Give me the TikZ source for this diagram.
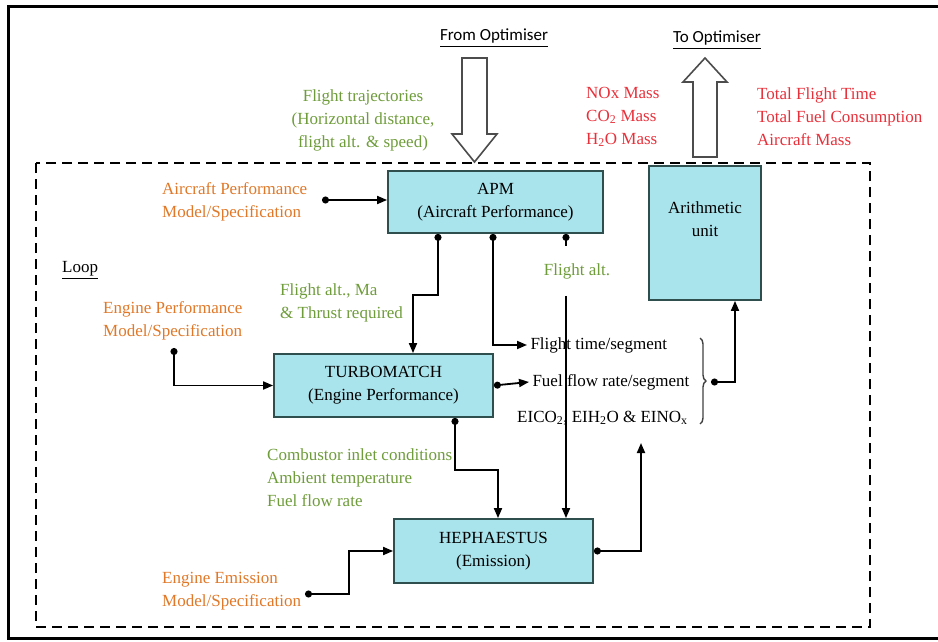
\documentclass[tikz,border=0pt]{standalone}
\usepackage{amsmath}
\usepackage{fontspec}
\setmainfont{Liberation Serif}
\newfontfamily\optfont{Carlito}
\usepackage{tikz}
\usetikzlibrary{arrows.meta,decorations.pathreplacing}

\definecolor{boxfill}{HTML}{A9E3EB}
\definecolor{boxline}{HTML}{2F4F4F}
\definecolor{inorange}{HTML}{E07828}
\definecolor{flowgreen}{HTML}{6E9C3A}
\definecolor{outred}{HTML}{E8303A}

\begin{document}
\begin{tikzpicture}[x=1pt,y=-1pt,
  every node/.style={font=\fontsize{17}{23}\selectfont},
  box/.style={draw=boxline,line width=1.8pt,fill=boxfill,align=center},
  txt/.style={inner sep=0pt,align=left,anchor=west},
  conn/.style={line width=1.8pt,{Circle[length=7pt]}-{Triangle[length=10pt,width=8pt]}},
  plain/.style={line width=1.8pt,{Circle[length=7pt]}-},
  hollow/.style={draw=black!70,line width=1.6pt,fill=white}]
  \useasboundingbox (0,0) rectangle (938,642);
  \draw[line width=3pt] (8,7) rectangle (970,638);
  \draw[line width=2.8pt,dash pattern=on 10pt off 6pt] (36,163) rectangle (870,627);

  \node[box,minimum width=215pt,minimum height=62pt] (apm) at (495.5,202) {APM\\(Aircraft Performance)};
  \node[box,minimum width=112pt,minimum height=134pt] (arith) at (705,233) {};
  \node[align=center] (arithtxt) at (705,219) {Arithmetic\\unit};
  \node[box,minimum width=219pt,minimum height=63pt] (tmatch) at (383.5,385.5) {TURBOMATCH\\(Engine Performance)};
  \node[box,minimum width=199pt,minimum height=64pt] (heph) at (493.5,551) {HEPHAESTUS\\(Emission)};

  \draw[hollow] (462,58) -- (487,58) -- (487,134) -- (497,134) -- (474.5,162) -- (452,134) -- (462,134) -- cycle;
  \draw[hollow] (693,157) -- (693,82) -- (683,82) -- (705,58) -- (727,82) -- (717,82) -- (717,157) -- cycle;
  \node[font=\optfont\fontsize{17}{20}\selectfont] (fromopt) at (494,38) {\underline{From Optimiser}};
  \node[font=\optfont\fontsize{17}{20}\selectfont] (toopt) at (717,40) {\underline{To Optimiser}};

  \node[align=center,text=flowgreen] (traj) at (363,120) {Flight trajectories\\(Horizontal distance,\\flight alt. \& speed)};
  \node[txt,text=outred] (emmass) at (586,117) {NOx Mass\\CO\textsubscript{2} Mass\\H\textsubscript{2}O Mass};
  \node[txt,text=outred] (totals) at (757,117) {Total Flight Time\\Total Fuel Consumption\\Aircraft Mass};

  \node[txt,text=inorange] (apspec) at (162,202) {Aircraft Performance\\Model/Specification};
  \node[txt] (loop) at (62,270) {\underline{Loop}};
  \node[txt,text=inorange] (epspec) at (103,321) {Engine Performance\\Model/Specification};
  \node[txt,text=inorange] (eespec) at (162,591) {Engine Emission\\Model/Specification};
  \node[txt,text=flowgreen] (altma) at (280,302.5) {Flight alt., Ma\\\& Thrust required};
  \node[txt,text=flowgreen] (comb) at (267,478) {Combustor inlet conditions\\Ambient temperature\\Fuel flow rate};
  \node[text=flowgreen,inner ysep=17pt] (flalt) at (577,271) {Flight alt.};

  \node[anchor=west] (ftime) at (527,345) {Flight time/segment};
  \node[anchor=west] (ffr) at (529,382) {Fuel flow rate/segment};
  \node[txt] (eico) at (517,418) {EICO\textsubscript{2}, EIH\textsubscript{2}O \& EINO\textsubscript{x}};

  \coordinate (apdot) at (322,200);
  \coordinate (epdot) at (174,348);
  \coordinate (eedot) at (305,594);
  \coordinate (brtip) at (711,382);
  \coordinate (eiin) at (641,443);

  \draw[conn] (apdot) -- (apm.west |- apdot);
  \draw[conn] (apm.south -| 438,0) |- (413,295) -- (tmatch.north -| 413,0);
  \draw[conn] (apm.south -| 493,0) |- (ftime.west);
  \draw[plain] (apm.south -| 566,0) -- (flalt.north -| 566,0);
  \draw[line width=1.8pt,-{Triangle[length=10pt,width=8pt]}] (flalt.south -| 566,0) -- (heph.north -| 566,0);
  \draw[conn] (epdot) |- (tmatch.west);
  \draw[conn] (tmatch.east) -- (ffr.west);
  \draw[conn] (tmatch.south -| 455,0) |- (498,470) -- (heph.north -| 498,0);
  \draw[conn] (eedot) -- +(44,0) |- (heph.west);
  \draw[conn] (heph.east) -| (eiin);
  \draw[line width=1.4pt,draw=black!75,decorate,decoration={brace,amplitude=6pt}] (700,338) -- (700,424);
  \draw[conn] (brtip) -| (arith.south -| 735,0);
\end{tikzpicture}
\end{document}
